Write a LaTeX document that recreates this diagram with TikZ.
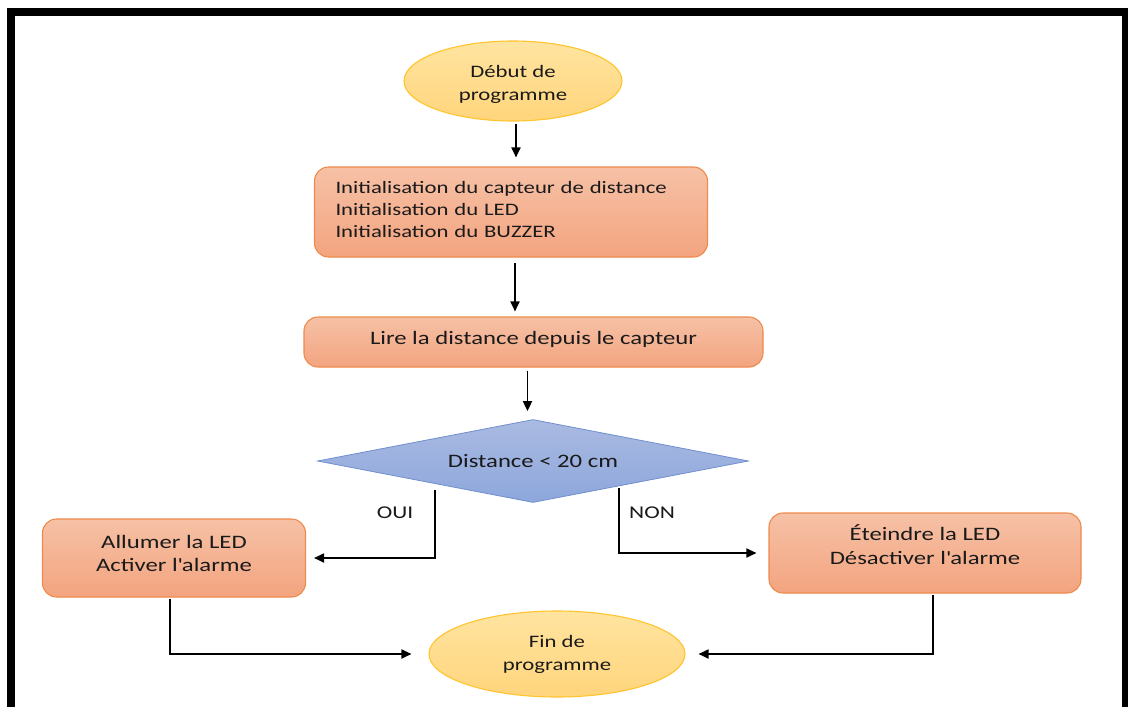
\documentclass[tikz,border=0pt]{standalone}
\usepackage{fontspec}
\setmainfont{Carlito}[FakeStretch=1.3]
\usetikzlibrary{shapes.geometric,arrows.meta,calc}

\definecolor{txt}{HTML}{1A1A1A}
\definecolor{boxtop}{HTML}{F6C1A6}
\definecolor{boxbot}{HTML}{F3A47F}
\definecolor{boxline}{HTML}{ED8A4C}
\definecolor{termtop}{HTML}{FFE4A0}
\definecolor{termbot}{HTML}{FFD57C}
\definecolor{termline}{HTML}{FFC42E}
\definecolor{dectop}{HTML}{AABAE2}
\definecolor{decbot}{HTML}{8DA7DB}
\definecolor{decline}{HTML}{6F8FCF}

\newcommand{\apos}{\textquotesingle}

\begin{document}
\begin{tikzpicture}[x=1pt,y=-1pt,
  every node/.style={text=txt, inner sep=0pt},
  procbox/.style={draw=boxline, line width=1.1pt, rounded corners=14pt,
    top color=boxtop, bottom color=boxbot, align=center},
  terminal/.style={ellipse, draw=termline, line width=1.1pt,
    top color=termtop, bottom color=termbot, align=center},
  decision/.style={diamond, draw=decline, line width=0.8pt,
    top color=dectop, bottom color=decbot, aspect=5.2},
  flow/.style={draw=black, line width=1.8pt, -{Triangle[length=10pt,width=9pt]}},
  small/.style={font=\fontsize{17.5}{22}\selectfont},
  large/.style={font=\fontsize{19}{23}\selectfont},
  tag/.style={font=\fontsize{18}{22}\selectfont}
]
\useasboundingbox (0,0) rectangle (1128,707);

% frame, open at the bottom
\draw[line width=8pt, line join=miter] (11,720) -- (11,12) -- (1126,12) -- (1126,720);

% steps (the text sits as a centred label, raised where needed)
\node[terminal, minimum width=218pt, minimum height=80pt,
      label={[name=debutText, small, align=center, font=\fontsize{17.5}{23}\selectfont, yshift=-3pt]center:{Début de\\programme}}]
      (debut) at (513,81) {};

\node[procbox, minimum width=393pt, minimum height=90pt,
      label={[name=initText, small, text width=351pt, align=left, yshift=3pt]center:{Initialisation du capteur de distance\\Initialisation du LED\\Initialisation du BUZZER}}]
      (init) at (511,212) {};

\node[procbox, minimum width=459pt, minimum height=50pt,
      label={[name=lireText, large, yshift=3pt]center:{Lire la distance depuis le capteur}}]
      (lire) at (533.5,342) {};

\node[decision, minimum width=431pt, minimum height=83pt, large] (dec) at (533,461) {Distance < 20 cm};

\node[procbox, minimum width=263pt, minimum height=78pt,
      label={[name=allumerText, large, align=center, yshift=5pt]center:{Allumer la LED\\Activer l\apos alarme}}]
      (allumer) at (174,558) {};

\node[procbox, minimum width=312pt, minimum height=80pt,
      label={[name=eteindreText, align=center, font=\fontsize{19}{24}\selectfont, yshift=8pt]center:{Éteindre la LED\\Désactiver l\apos alarme}}]
      (eteindre) at (925,553) {};

\node[terminal, minimum width=256pt, minimum height=86pt,
      font=\fontsize{17.5}{23}\selectfont] (fin) at (557,654) {Fin de\\programme};

% branch labels
\node[tag] (oui) at (395,513) {OUI};
\node[tag] (non) at (652,513) {NON};

% branch starting points on the lower edges of the decision
\coordinate (ouiStart) at ($(dec.west)!0.545!(dec.south)$);
\coordinate (nonStart) at ($(dec.south)!0.40!(dec.east)$);

% connectors
\draw[flow, shorten <=2pt, shorten >=9pt] ([xshift=3pt]debut.south) -- ([xshift=3pt]debut.south |- init.north);
\draw[flow, shorten <=5pt, shorten >=5pt] ([xshift=4pt]init.south) -- ([xshift=4pt]init.south |- lire.north);
\draw[flow, shorten <=3pt, shorten >=8pt] ([xshift=-6pt]lire.south) -- ([xshift=-6pt]lire.south |- dec.north);
\draw[flow, shorten >=8pt] ([yshift=-6pt]ouiStart) |- (allumer.east);
\draw[flow, shorten >=12pt] ([yshift=-2pt]nonStart) |- (eteindre.west);
\draw[flow, shorten <=1pt, shorten >=17pt] ([xshift=-4pt]allumer.south) |- (fin.west);
\draw[flow, shorten <=1pt, shorten >=13pt] ([xshift=8pt]eteindre.south) |- (fin.east);
\end{tikzpicture}
\end{document}
